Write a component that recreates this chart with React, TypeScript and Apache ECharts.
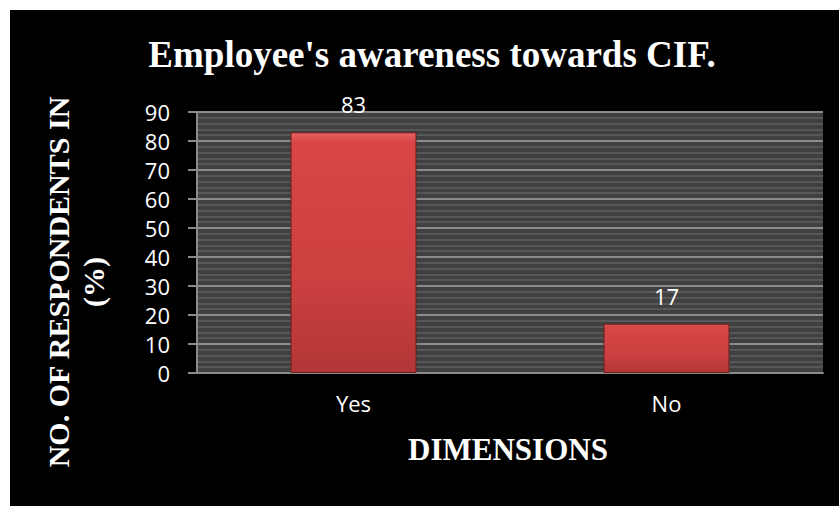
import React, { useEffect, useRef } from "react";
import * as echarts from "echarts";

const categories = ["Yes", "No"];
const values = [83, 17];
const yTicks = { min: 0, max: 90, interval: 10 };
const titleText = "Employee's awareness towards CIF.";
const yNameLine1 = "NO. OF RESPONDENTS IN";
const yNameLine2 = "(%)";
const xName = "DIMENSIONS";

export default function App() {
  const ref = useRef<HTMLDivElement>(null);
  useEffect(() => {
    if (!ref.current) return;
    const chart = echarts.init(ref.current, null, { renderer: "svg" });
    const serif = "'Liberation Serif', 'Times New Roman', serif";
    const sans = "'Open Sans', 'Noto Sans', sans-serif";
    chart.setOption({
      animation: false,
      backgroundColor: "transparent",
      grid: {
        left: 197,
        right: 16,
        top: 112,
        bottom: 133,
        show: true,
        backgroundColor: "#404040",
        borderWidth: 0,
      },
      xAxis: {
        type: "category",
        data: categories,
        axisLine: { show: true, lineStyle: { color: "#8a8a8a", width: 2 } },
        axisTick: { show: false },
        axisLabel: { color: "#ffffff", fontFamily: sans, fontSize: 22, margin: 19 },
        splitLine: { show: false },
      },
      yAxis: {
        type: "value",
        min: yTicks.min,
        max: yTicks.max,
        interval: yTicks.interval,
        axisLine: { show: true, lineStyle: { color: "#8a8a8a", width: 2 } },
        axisTick: { show: true, length: 9, lineStyle: { color: "#8a8a8a", width: 2 } },
        axisLabel: { color: "#ffffff", fontFamily: sans, fontSize: 22, margin: 27 },
        splitLine: { show: true, lineStyle: { color: "#8c8c8c", width: 2 } },
        minorTick: { show: false, splitNumber: 5 },
        minorSplitLine: { show: true, lineStyle: { color: "#575757", width: 2 } },
      },
      series: [
        {
          type: "bar",
          data: values,
          barWidth: 126,
          itemStyle: {
            color: new echarts.graphic.LinearGradient(0, 0, 0, 1, [
              { offset: 0, color: "#e86262" },
              { offset: 0.04, color: "#d94646" },
              { offset: 0.6, color: "#cc4040" },
              { offset: 1, color: "#b33636" },
            ]),
            borderColor: "#6e1c1c",
            borderWidth: 1,
          },
          label: {
            show: true,
            position: "top",
            distance: 17,
            color: "#ffffff",
            fontFamily: sans,
            fontSize: 22,
          },
        },
      ],
      graphic: [
        {
          type: "text",
          x: 432,
          y: 54,
          style: {
            text: titleText,
            fill: "#ffffff",
            font: `bold 37px ${serif}`,
            textAlign: "center",
            textVerticalAlign: "middle",
          },
        },
        {
          type: "text",
          x: 58,
          y: 282,
          rotation: Math.PI / 2,
          style: {
            text: yNameLine1,
            fill: "#ffffff",
            font: `bold 30px ${serif}`,
            textAlign: "center",
            textVerticalAlign: "middle",
          },
        },
        {
          type: "text",
          x: 93,
          y: 282,
          rotation: Math.PI / 2,
          style: {
            text: yNameLine2,
            fill: "#ffffff",
            font: `bold 30px ${serif}`,
            textAlign: "center",
            textVerticalAlign: "middle",
          },
        },
        {
          type: "text",
          x: 508,
          y: 449,
          style: {
            text: xName,
            fill: "#ffffff",
            font: `bold 31px ${serif}`,
            textAlign: "center",
            textVerticalAlign: "middle",
          },
        },
      ],
    });
    return () => chart.dispose();
  }, []);
  return (
    <div style={{ position: "fixed", left: 0, top: 0, width: 839, height: 506, background: "#ffffff" }}>
      <div style={{ position: "absolute", left: 10, top: 10, width: 829, height: 496, background: "#000000" }} />
      <div ref={ref} style={{ position: "absolute", left: 0, top: 0, width: 839, height: 506 }} />
    </div>
  );
}
